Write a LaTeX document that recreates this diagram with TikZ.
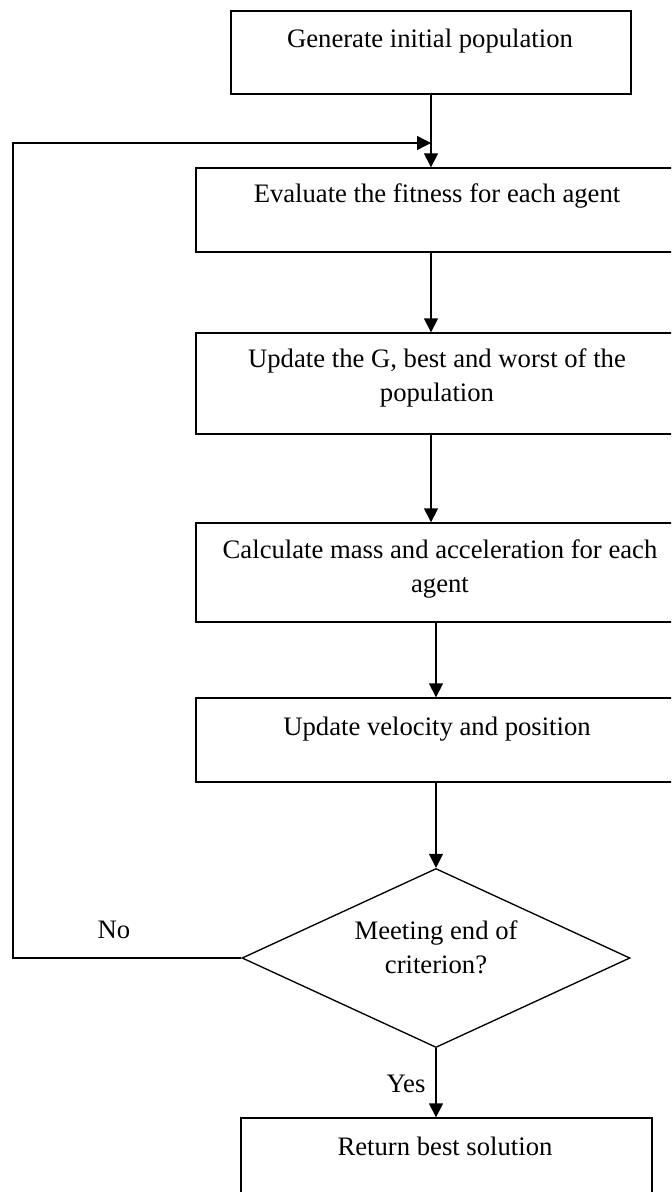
\documentclass[tikz,border=0pt]{standalone}
\usepackage{fontspec}
\setmainfont{Liberation Serif}
\usetikzlibrary{arrows.meta,shapes.geometric}

\tikzset{
    box/.style={draw, line width=0.6pt, rectangle, inner sep=0pt},
    txt/.style={align=center, anchor=base, inner sep=0pt, font=\fontsize{12}{14.9}\selectfont},
    arr/.style={line width=0.6pt, -{Triangle[length=6.3pt,width=6.3pt]}},
}

\begin{document}
\begin{tikzpicture}[x=0.45pt,y=-0.45pt]
    \useasboundingbox (0,0) rectangle (671,1192);
    \clip (0,0) rectangle (671,1192);

    % boxes
    \node[box, minimum width=180pt, minimum height=37.35pt] (gen) at (431,52.5) {};
    \node[box, minimum width=216.9pt, minimum height=37.8pt] (eval) at (437,210) {};
    \node[box, minimum width=216.9pt, minimum height=45.45pt] (upd) at (437,383.5) {};
    \node[box, minimum width=216.9pt, minimum height=44.55pt] (calc) at (437,572.5) {};
    \node[box, minimum width=216.9pt, minimum height=37.8pt] (vel) at (437,740) {};
    \node[box, shape=diamond, minimum width=174.6pt, minimum height=80.55pt] (crit) at (436,958) {};
    \node[box, minimum width=184.95pt, minimum height=36.9pt] (ret) at (446.5,1159) {};

    % texts (base = last line)
    \node[txt] (gentxt) at (430,48) {Generate initial population};
    \node[txt] (evaltxt) at (437,203) {Evaluate the fitness for each agent};
    \node[txt] (updtxt) at (437,401) {Update the G, best and worst of the\\population};
    \node[txt] (calctxt) at (440,592) {Calculate mass and acceleration for each\\agent};
    \node[txt] (veltxt) at (437,735) {Update velocity and position};
    \node[txt] (crittxt) at (436,973) {Meeting end of\\criterion?};
    \node[txt] (rettxt) at (445,1155) {Return best solution};
    \node[txt] (no) at (114,938) {No};
    \node[txt] (yes) at (406,1092) {Yes};

    % connectors
    \coordinate (loop) at (13,143);
    \draw[arr] (gen.south) -- (gen.south |- eval.north);
    \draw[arr] (eval.south -| gen.south) -- (upd.north -| gen.south);
    \draw[arr] (upd.south -| gen.south) -- (calc.north -| gen.south);
    \draw[arr] (calc.south -| crit.north) -- (vel.north -| crit.north);
    \draw[arr] (vel.south -| crit.north) -- (crit.north);
    \draw[arr] (crit.south) -- (crit.south |- ret.north);
    \draw[arr] (crit.west) -- (crit.west -| loop) -- (loop) -- (gen.south |- loop);
\end{tikzpicture}
\end{document}
